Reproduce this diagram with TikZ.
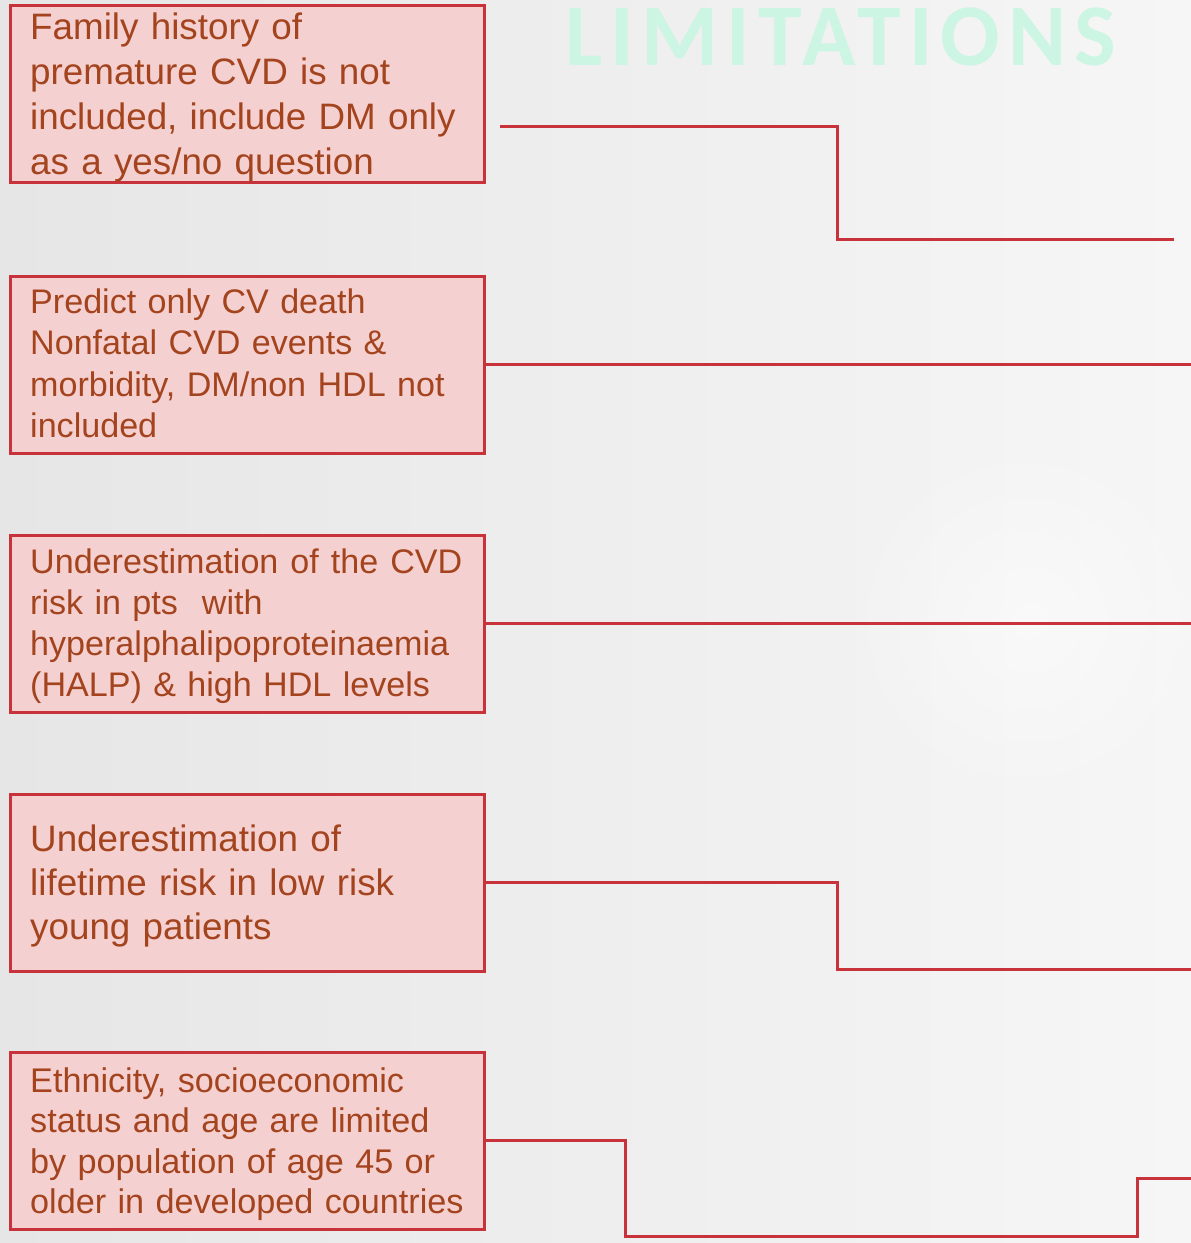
\documentclass[tikz,border=0pt]{standalone}
\usepackage{fontspec}
\setmainfont{Liberation Sans}
\newfontfamily\titlefont{Carlito}[LetterSpace=9.1]
\usetikzlibrary{fadings}

\definecolor{boxfill}{HTML}{F5D0D0}
\definecolor{boxline}{HTML}{C8323A}
\definecolor{txt}{HTML}{A3441E}
\definecolor{mint}{HTML}{CCF5E3}
\definecolor{bgl}{HTML}{E6E6E6}
\definecolor{bgr}{HTML}{F6F6F6}

\tikzfading[name=glow, inner color=transparent!0, outer color=transparent!100]

\begin{document}
\begin{tikzpicture}[x=1pt,y=-1pt,
  limbox/.style={draw=boxline, fill=boxfill, line width=3pt, rectangle,
    inner sep=0pt, outer sep=0pt, minimum width=474pt, minimum height=177pt,
    anchor=north west},
  limtext/.style={anchor=base west, inner sep=0pt, text width=470pt,
    align=left, text=txt},
  link/.style={draw=boxline, line width=3pt}]

% background
\useasboundingbox (0,0) rectangle (1191,1243);
\shade[left color=bgl, right color=bgr] (0,0) rectangle (1191,1243);
\fill[white, opacity=0.5, path fading=glow] (1030,620) circle (190);

% title
\node[anchor=base west, inner sep=0pt, text=mint,
  font=\titlefont\bfseries\fontsize{88}{88}\selectfont] (title) at (565,65) {LIMITATIONS};

% boxes
\node[limbox] (b1) at (10,5) {};
\node[limbox] (b2) at (10,276) {};
\node[limbox] (b3) at (10,535) {};
\node[limbox] (b4) at (10,794) {};
\node[limbox] (b5) at (10,1052) {};

% box texts
\node[limtext, font=\fontsize{36.8}{45}\selectfont] (t1) at (30,39)
  {Family history of\\premature CVD is not\\included, include DM only\\as a yes/no question};
\node[limtext, font=\fontsize{34.1}{41.5}\selectfont] (t2) at (30,313)
  {Predict only CV death\\Nonfatal CVD events \&\\morbidity, DM/non HDL not\\included};
\node[limtext, font=\fontsize{34.1}{41.3}\selectfont] (t3) at (30,573)
  {Underestimation\hspace{12pt}of\hspace{12pt}the\hspace{12pt}CVD\\risk in pts\hspace{24pt}with\\hyperalphalipoproteinaemia\\(HALP) \& high HDL levels};
\node[limtext, font=\fontsize{36.8}{44}\selectfont] (t4) at (30,851)
  {Underestimation of\\lifetime risk in low risk\\young patients};
\node[limtext, font=\fontsize{34.2}{40.6}\selectfont] (t5) at (30,1092)
  {Ethnicity, socioeconomic\\status and age are limited\\by population of age 45 or\\older in developed countries};

% connector end points
\coordinate (redge) at (1193,0);
\coordinate (s1) at (500,126);
\coordinate (e1) at (1174,239);
\coordinate (e4) at (1193,969);
\coordinate (k5) at (1137,1236);
\coordinate (e5) at (1193,1178);

% connectors
\draw[link] (s1) -- ++(337,0) |- (e1);
\draw[link] (b2.east) -- (b2.east -| redge);
\draw[link] (b3.east) -- (b3.east -| redge);
\draw[link] (b4.east) -- ++(353,0) |- (e4);
\draw[link] (b5.east) -- ++(141,0) |- (k5) |- (e5);
\end{tikzpicture}
\end{document}
